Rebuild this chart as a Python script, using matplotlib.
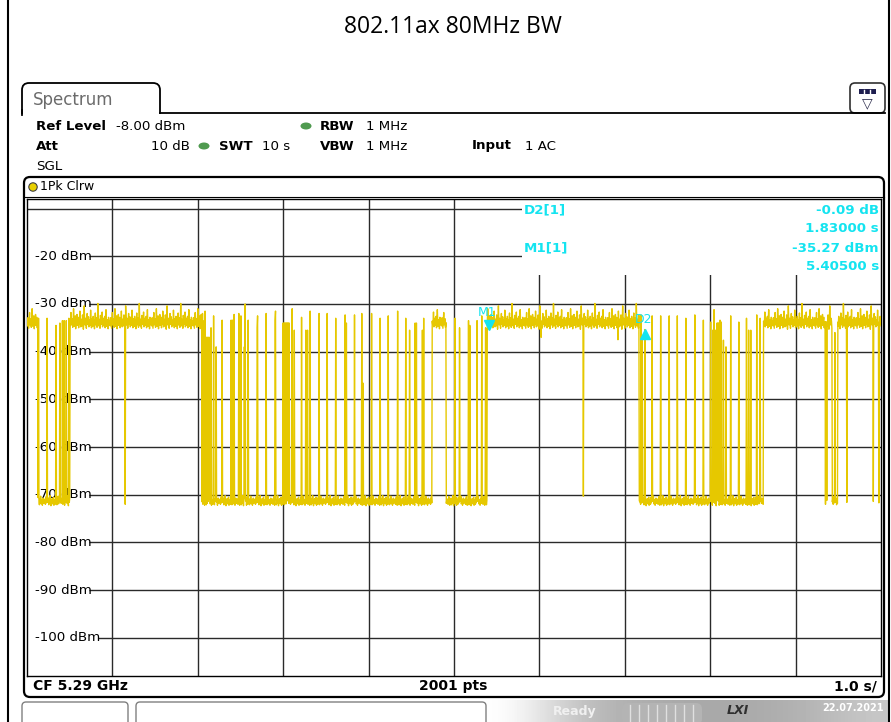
import numpy as np
import matplotlib
matplotlib.use("Agg")
import matplotlib.pyplot as plt
from matplotlib.patches import FancyBboxPatch, Rectangle, Circle, Ellipse
import matplotlib.transforms as mtransforms

# ---- analyzer settings ----
sweep_s = 10.0
n_pts = 2001
ref_level = -8.0
bottom_level = -108.0
grid_levels = [-10, -20, -30, -40, -50, -60, -70, -80, -90, -100]
label_levels = [-20, -30, -40, -50, -60, -70, -80, -90, -100]
label_texts = ["-20 dBm", "-30 dBm", "-40 dBm", "-50 dBm", "-60 dBm",
               "-70 dBm", "-80 dBm", "-90 dBm", "-100 dBm"]
time_divs = [1, 2, 3, 4, 5, 6, 7, 8, 9]

# ---- trace (zero span power vs time) ----
busy_level = -34.2
floor_level = -71.8

# stretches where the channel is idle and the trace sits on the noise floor (s)
idle_start = [0.13, 2.05, 4.91, 7.17, 9.43]
idle_end = [0.50, 4.74, 5.385, 8.62, 9.49]

# single frames inside the idle stretches: time (s), peak (dBm)
burst_t = [0.137, 0.237, 0.339, 0.386, 0.413, 0.433, 0.460, 0.492,
           2.053, 2.076, 2.084, 2.155, 2.186, 2.217, 2.287, 2.389, 2.404,
           2.427, 2.482, 2.506, 2.545, 2.553, 2.592, 2.693, 2.701, 2.802,
           2.904, 2.912, 3.107, 3.130, 3.217, 3.263, 3.287, 3.314, 3.419,
           3.513, 3.615, 3.724, 3.739, 3.833, 3.919, 3.934, 4.036, 4.137,
           4.231, 4.341, 4.434, 4.481, 4.543, 4.559, 4.629, 4.645,
           5.012, 5.066, 5.168, 5.184, 5.269, 5.324, 5.371,
           7.190, 7.205, 7.235, 7.318, 7.420, 7.521, 7.615, 7.717, 7.822,
           7.919, 8.006, 8.029, 8.044, 8.060, 8.115, 8.130, 8.153, 8.185,
           8.240, 8.334, 8.427, 8.451, 8.474, 8.544, 8.583,
           9.460]
burst_peak = [-33.0, -33.0, -34.5, -34.0, -33.5, -33.5, -33.5, -33.0,
              -32.0, -33.5, -31.5, -35.0, -32.5, -39.0, -33.4, -33.4, -33.4,
              -32.2, -32.0, -32.5, -39.0, -30.0, -33.4, -35.0, -32.5, -32.0,
              -33.4, -31.5, -31.0, -35.5, -32.8, -35.5, -35.5, -31.5, -32.0,
              -32.0, -33.0, -32.3, -34.0, -32.3, -32.0, -46.6, -32.0, -33.0,
              -32.5, -31.5, -33.0, -35.5, -34.0, -34.0, -35.5, -33.0,
              -33.0, -35.0, -33.5, -34.5, -33.5, -32.5, -35.0,
              -32.3, -37.6, -35.36, -32.5, -32.5, -32.5, -32.5, -33.0, -32.3,
              -33.4, -33.8, -35.5, -31.2, -35.5, -33.4, -33.8, -37.6, -39.0,
              -32.5, -33.8, -33.0, -35.5, -35.5, -32.3, -33.0,
              -36.0]

# dense groups of frames (start s, end s, peak dBm)
cluster_start = [2.096, 2.998, 8.080]
cluster_end = [2.139, 3.068, 8.100]
cluster_peak = [-37.0, -34.0, -34.0]

# single drops to the floor inside busy stretches (s)
gap_t = [1.148, 6.514, 9.348, 9.364, 9.598, 9.910, 9.973]
# shallow dips inside busy stretches
dip_t = [6.02, 6.92]
dip_level = [-37.0, -37.5]

# peak-detector ripple (dB)
busy_ripple = [
    0.6, -0.4, 1.3, 0.2, -0.9, 0.8, 2.4, -0.2, 0.5, 1.1,
    -0.7, 0.3, 3.2, 0.9, -0.5, 0.1, 1.7, -1.0, 0.6, 0.2,
    2.0, -0.3, 0.8, 1.4, -0.8, 0.4, 0.0, 2.7, 0.5, -0.6,
    1.0, 0.3, -0.4, 1.9, 0.7, -1.1, 0.2, 3.8, 0.4, -0.2,
    1.2, 0.6, -0.9, 0.9, 2.2, -0.1, 0.3, 1.5, -0.6, 0.8,
    0.1, -0.3, 2.9, 0.6, -0.8, 1.1, 0.4, -0.5, 1.6, 0.0,
    0.9, -1.0, 0.5, 2.3, -0.2, 0.7, 1.3, -0.7, 0.2, 4.3,
    0.5, -0.4, 1.0, 0.3, -0.9, 1.8, 0.6, -0.1, 0.4, 2.5,
    -0.6, 0.8, 1.2, -0.3, 0.1, 1.6, -0.8, 0.5, 3.0, 0.2,
    -0.5, 0.9, 0.4, -1.0, 1.4, 0.7, -0.2]
floor_ripple = [
    0.3, 0.9, -0.2, 0.5, 1.4, 0.1, -0.4, 0.7, 0.2, 1.1,
    -0.3, 0.6, 0.0, 1.6, 0.4, -0.5, 0.8, 0.2, 1.0, -0.1,
    0.5, 1.3, -0.4, 0.3, 0.7, -0.2, 1.2, 0.1, 0.6, -0.3,
    0.9, 0.4, 1.5, -0.1, 0.2, 0.8, -0.4, 0.5, 1.1, 0.0, 0.6]

# markers
m1_t = 5.405
m1_level = -35.27
d2_dt = 1.83
d2_delta = -0.09

YELLOW = "#e6c800"
CYAN = "#14e4f0"

t = np.linspace(0, sweep_s, n_pts)
hi = busy_level + np.resize(np.array(busy_ripple), n_pts)
lo = floor_level + np.resize(np.array(floor_ripple), n_pts)


def idx(s):
    return int(round(s / sweep_s * (n_pts - 1)))


trace = hi.copy()
for a, b in zip(idle_start, idle_end):
    trace[idx(a):idx(b) + 1] = lo[idx(a):idx(b) + 1]
for s, p in zip(burst_t, burst_peak):
    trace[idx(s)] = p
for a, b, p in zip(cluster_start, cluster_end, cluster_peak):
    i0, i1 = idx(a), idx(b)
    trace[i0:i1 + 1:2] = p
for s in gap_t:
    trace[idx(s)] = lo[idx(s)]
for s, p in zip(dip_t, dip_level):
    trace[idx(s)] = p
d2_t = m1_t + d2_dt
d2_level = m1_level + d2_delta
trace[idx(m1_t)] = m1_level
trace[idx(d2_t)] = d2_level

plt.rcParams["font.family"] = ["DejaVu Sans"]

fig = plt.figure(figsize=(8.91, 7.22), dpi=100)

# background layer in pixel units for the screen furniture
bg = fig.add_axes([0, 0, 1, 1], zorder=0)
bg.set_xlim(0, 891)
bg.set_ylim(722, 0)
bg.axis("off")

# document frame + title
bg.plot([8, 8], [0, 722], color="black", lw=1.5)
bg.plot([889, 889], [0, 722], color="black", lw=1.5)
bg.text(453, 27, "802.11ax 80MHz BW", ha="center", va="center",
        fontsize=16.5, family=["Open Sans", "DejaVu Sans"])

# Spectrum tab
bg.add_patch(FancyBboxPatch((22, 83), 138, 45, boxstyle="round,pad=0,rounding_size=7",
                            fc="white", ec="black", lw=1.3))
bg.add_patch(Rectangle((20, 114), 142, 20, fc="white", ec="none"))
bg.plot([22, 22], [110, 115], color="black", lw=1.3)
bg.plot([160, 885], [113, 113], color="black", lw=1.3)
bg.text(33, 100, "Spectrum", fontsize=12, color="#6b6b6b", va="center")

# menu button top right
bg.add_patch(FancyBboxPatch((850, 83), 35, 30, boxstyle="round,pad=0,rounding_size=5",
                            fc="white", ec="#303030", lw=1.2))
bg.add_patch(Rectangle((859, 89), 17, 5, fc="#1e1e50", ec="none"))
for xx in [864, 870]:
    bg.plot([xx, xx], [89.5, 93.5], color="white", lw=1)
bg.text(867.5, 103, "▽", ha="center", va="center", fontsize=10, color="#303050")

# setting lines
fs = 9.6
bg.text(36, 126, "Ref Level", fontsize=fs, weight="bold", va="center")
bg.text(116, 126, "-8.00 dBm", fontsize=fs, va="center")
bg.add_patch(Ellipse((306, 126), 11, 7, fc="#4f9a4f", ec="none"))
bg.text(320, 126, "RBW", fontsize=fs, weight="bold", va="center")
bg.text(366, 126, "1 MHz", fontsize=fs, va="center")
bg.text(36, 146, "Att", fontsize=fs, weight="bold", va="center")
bg.text(151, 146, "10 dB", fontsize=fs, va="center")
bg.add_patch(Ellipse((204, 146), 11, 7, fc="#4f9a4f", ec="none"))
bg.text(219, 146, "SWT", fontsize=fs, weight="bold", va="center")
bg.text(262, 146, "10 s", fontsize=fs, va="center")
bg.text(320, 146, "VBW", fontsize=fs, weight="bold", va="center")
bg.text(366, 146, "1 MHz", fontsize=fs, va="center")
bg.text(472, 146, "Input", fontsize=fs, weight="bold", va="center")
bg.text(525, 146, "1 AC", fontsize=fs, va="center")
bg.text(36, 166, "SGL", fontsize=fs, va="center")

# trace window frame
bg.add_patch(FancyBboxPatch((24, 177), 860, 520, boxstyle="round,pad=0,rounding_size=6",
                            fc="white", ec="black", lw=1.6))
bg.plot([24, 884], [196.5, 196.5], color="black", lw=0.8)
bg.add_patch(Circle((33, 187), 4.2, fc="#e8d000", ec="#404040", lw=0.8))
bg.text(40, 187, "1Pk Clrw", fontsize=9, va="center")

# footer of the trace window
nar = ["Liberation Sans Narrow", "DejaVu Sans"]
bg.text(33, 686, "CF 5.29 GHz", fontsize=10, weight="bold", va="center", family=nar)
bg.text(453, 686, "2001 pts", fontsize=10, weight="bold", va="center", ha="center", family=nar)
bg.text(877, 686, "1.0 s/", fontsize=10, weight="bold", va="center", ha="right", family=nar)

# status bar (cut off at the bottom)
bg.add_patch(FancyBboxPatch((22, 702), 106, 30, boxstyle="round,pad=0,rounding_size=4",
                            fc="white", ec="#808080", lw=1))
bg.add_patch(FancyBboxPatch((136, 702), 350, 30, boxstyle="round,pad=0,rounding_size=4",
                            fc="white", ec="#808080", lw=1))
grad = np.array([[1.0, 0.85, 0.72, 0.68, 0.66, 0.66, 0.68, 0.72, 0.78]])
bg.imshow(grad, cmap="gray", vmin=0, vmax=1, aspect="auto",
          extent=[486, 889, 722, 700], interpolation="bicubic")
bg.text(553, 712, "Ready", fontsize=9, color="#f0f0f0", va="center", weight="bold")
bg.add_patch(FancyBboxPatch((622, 703), 80, 22, boxstyle="round,pad=0,rounding_size=6",
                            fc="#b4b4b4", ec="none"))
for xx in range(630, 700, 9):
    bg.plot([xx, xx], [705, 722], color="#e0e0e0", lw=1)
bg.text(727, 711, "LXI", fontsize=9, weight="bold", style="italic", color="#303030", va="center")
bg.text(822, 708, "22.07.2021", fontsize=7, color="white", va="center", weight="bold")

# ---- the measurement diagram ----
ax = fig.add_axes([27 / 891, (722 - 676) / 722, 854 / 891, 477 / 722], zorder=1)
ax.set_xlim(0, sweep_s)
ax.set_ylim(bottom_level, ref_level)
ax.set_xticks([])
ax.set_yticks([])
for sp in ax.spines.values():
    sp.set_color("black")
    sp.set_linewidth(1.0)

gcol = "#2a2a2a"
ax.vlines(time_divs, bottom_level, ref_level, color=gcol, lw=1.0, zorder=1)
for lv in grid_levels:
    start = 0.0 if lv == -10 else (0.83 if lv == -100 else 0.73)
    ax.hlines(lv, start, sweep_s, color=gcol, lw=1.0, zorder=1)

ylab_tr = mtransforms.blended_transform_factory(ax.transAxes, ax.transData)
for lv, txt in zip(label_levels, label_texts):
    ax.text(0.0095, lv, txt, transform=ylab_tr, fontsize=9.6, va="center", zorder=2)

# marker readout area (covers the grid)
box_left = 5.80
box_bottom = -23.9
ax.add_patch(Rectangle((box_left, box_bottom), sweep_s - box_left, ref_level - box_bottom,
                       fc="white", ec="none", zorder=1.5))

ax.plot(t, trace, color=YELLOW, lw=1.0, zorder=3)

# markers
up = mtransforms.offset_copy(ax.transData, fig=fig, y=4, units="dots")
down = mtransforms.offset_copy(ax.transData, fig=fig, y=-4, units="dots")
ax.plot([m1_t], [m1_level], marker="v", ms=7, color=CYAN, transform=up, zorder=4)
ax.plot([d2_t], [d2_level], marker="^", ms=7, color=CYAN, transform=down, zorder=4)
m1_lab = mtransforms.offset_copy(ax.transData, fig=fig, y=17, units="dots")
d2_lab = mtransforms.offset_copy(ax.transData, fig=fig, y=10, units="dots")
ax.text(m1_t - 0.02, m1_level, "M1", color=CYAN, fontsize=9, ha="center", va="center",
        transform=m1_lab, zorder=4)
ax.text(d2_t - 0.02, d2_level, "D2", color=CYAN, fontsize=9, ha="center", va="center",
        transform=d2_lab, zorder=4)

# readout texts
ro = dict(color=CYAN, fontsize=9.6, weight="bold", va="center", zorder=5)
over = fig.add_axes([0, 0, 1, 1], zorder=2)
over.set_xlim(0, 891)
over.set_ylim(722, 0)
over.axis("off")
over.text(524, 210, "D2[1]", **ro)
over.text(524, 248, "M1[1]", **ro)
over.text(879, 210, f"{d2_delta:.2f} dB", ha="right", **ro)
over.text(879, 228, f"{d2_dt:.5f} s", ha="right", **ro)
over.text(879, 248, f"{m1_level:.2f} dBm", ha="right", **ro)
over.text(879, 266, f"{m1_t:.5f} s", ha="right", **ro)

fig.savefig("out.png", dpi=100)
